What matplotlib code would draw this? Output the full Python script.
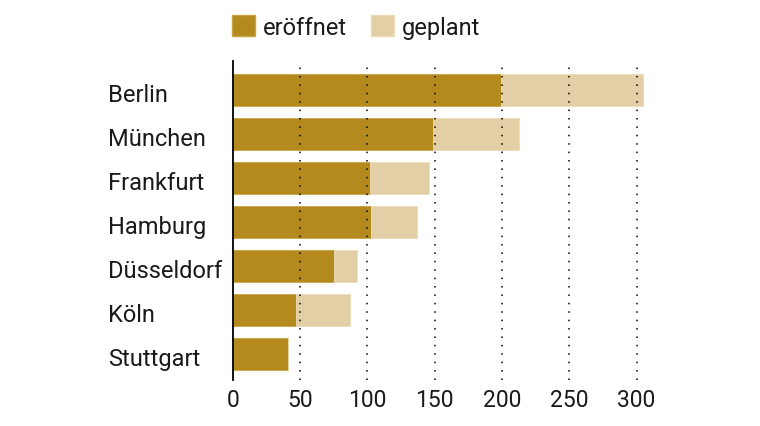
import numpy as np
import matplotlib.pyplot as plt
from matplotlib.patches import Patch
from matplotlib.transforms import blended_transform_factory, offset_copy

# Daten
staedte = ['Berlin', 'München', 'Frankfurt', 'Hamburg', 'Düsseldorf', 'Köln', 'Stuttgart']
eroeffnet = [199, 149, 102, 103, 75, 47, 41]
gesamt = [305, 213, 146, 137, 92, 87, 41]
geplant = [g - e for g, e in zip(gesamt, eroeffnet)]
xticks = [0, 50, 100, 150, 200, 250, 300]

c_dunkel = '#b48a1e'
c_hell = '#e3cfa5'
c_text = '#1a1a1a'

plt.rcParams['font.family'] = ['Roboto', 'DejaVu Sans']

fig = plt.figure(figsize=(7.6, 4.27), dpi=100)
ax = fig.add_axes([0.3062, 0.1077, 0.5491, 0.7471])

y = np.arange(len(staedte))
ax.barh(y, eroeffnet, height=0.72, color=c_dunkel, edgecolor='#c9a445', linewidth=0.6, zorder=2)
ax.barh(y, geplant, left=eroeffnet, height=0.72, color=c_hell, edgecolor='#ecdcb8', linewidth=0.6, zorder=2)

ax.set_xlim(0, 310)
ax.set_ylim(6.59, -0.66)

# gepunktete Linien
for x in xticks[1:]:
    ax.axvline(x, color='black', linewidth=1.1, linestyle=(0, (1, 4.5)), zorder=3)

for s in ['top', 'right', 'bottom']:
    ax.spines[s].set_visible(False)
ax.spines['left'].set_linewidth(1.3)
ax.spines['left'].set_zorder(4)

ax.set_xticks(xticks)
ax.set_xticklabels([str(t) for t in xticks], fontsize=16.5, color=c_text)
ax.tick_params(axis='x', length=0, pad=6)
ax.set_yticks([])

# Städtenamen linksbündig, Grundlinie etwas unter Balkenmitte
trans = blended_transform_factory(fig.transFigure, ax.transData)
trans = offset_copy(trans, fig=fig, x=0, y=-7.6, units='points')
for i, name in enumerate(staedte):
    ax.text(108 / 760, i, name, transform=trans, ha='left', va='baseline',
            fontsize=17, color=c_text)

handles = [Patch(facecolor=c_dunkel, edgecolor='#c9a445', label='eröffnet'),
           Patch(facecolor=c_hell, edgecolor='#ecdcb8', label='geplant')]
fig.legend(handles=handles, loc='upper left', bbox_to_anchor=(231.7 / 760, 1 - 16 / 427),
           ncol=2, frameon=False, fontsize=17, handlelength=0.98, handleheight=0.98,
           handletextpad=0.34, columnspacing=1.0, borderpad=0, borderaxespad=0,
           labelcolor=c_text)

fig.savefig('out.png', dpi=100)
